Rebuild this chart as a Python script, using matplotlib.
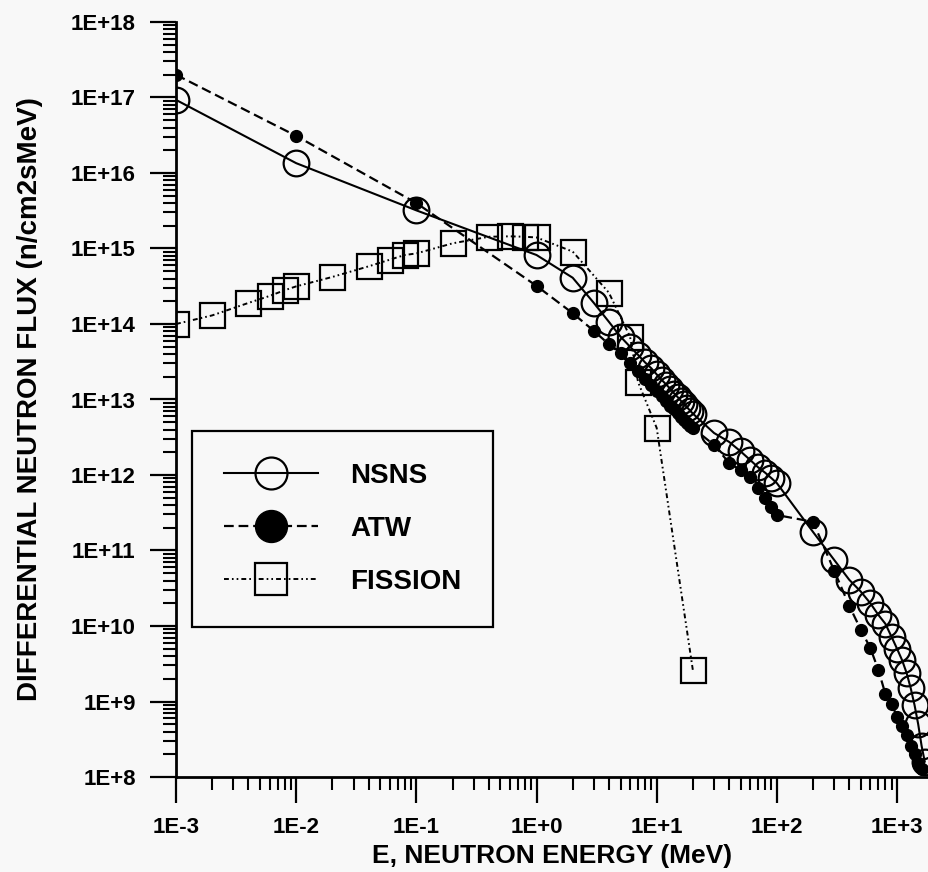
import numpy as np
import matplotlib
matplotlib.use("Agg")
import matplotlib.pyplot as plt
from matplotlib.lines import Line2D
from matplotlib.ticker import LogLocator, FuncFormatter, NullFormatter

plt.rcParams['font.family'] = ['Liberation Sans', 'DejaVu Sans']
plt.rcParams['font.weight'] = 'bold'
plt.rcParams['lines.scale_dashes'] = False

# ---------------- data ----------------
nsns_E = [1e-3, 1e-2, 1e-1, 1.0, 2.0, 3.0, 4.0, 5.0, 6.0, 7.0, 8.0, 9.0, 10.0,
          11.0, 12.0, 13.0, 14.0, 15.0, 16.0, 17.0, 18.0, 19.0, 20.0,
          30.0, 40.0, 50.0, 60.0, 70.0, 80.0, 90.0, 100.0,
          200.0, 300.0, 400.0, 500.0, 600.0, 700.0, 800.0, 900.0, 1000.0,
          1100.0, 1200.0, 1300.0, 1400.0, 1500.0, 1600.0, 1700.0]
nsns_F = [9.3e16, 1.35e16, 3.2e15, 8.2e14, 4.1e14, 1.9e14, 1.07e14, 6.8e13, 5.0e13,
          3.9e13, 3.1e13, 2.6e13, 2.15e13, 1.82e13, 1.58e13, 1.38e13, 1.2e13, 1.07e13,
          9.5e12, 8.7e12, 7.8e12, 7.1e12, 6.5e12,
          3.6e12, 2.75e12, 2.05e12, 1.58e12, 1.26e12, 1.07e12, 9.1e11, 7.8e11,
          1.76e11, 7.5e10, 4.1e10, 2.85e10, 2.0e10, 1.4e10, 1.07e10, 7.2e9, 5.0e9,
          3.55e9, 2.4e9, 1.5e9, 8.9e8, 5.0e8, 2.6e8, 1.6e8]

atw_E = [1e-3, 1e-2, 1e-1, 1.0, 2.0, 3.0, 4.0, 5.0, 6.0, 7.0, 8.0, 9.0, 10.0,
         11.0, 12.0, 13.0, 14.0, 15.0, 16.0, 17.0, 18.0, 19.0, 20.0,
         30.0, 40.0, 50.0, 60.0, 70.0, 80.0, 90.0, 100.0,
         200.0, 300.0, 400.0, 500.0, 600.0, 700.0, 800.0, 900.0, 1000.0,
         1100.0, 1200.0, 1300.0, 1400.0, 1500.0, 1600.0]
atw_F = [2.0e17, 3.1e16, 4.0e15, 3.2e14, 1.39e14, 8.1e13, 5.4e13, 4.1e13, 3.0e13,
         2.35e13, 1.86e13, 1.55e13, 1.29e13, 1.1e13, 9.5e12, 8.3e12, 7.4e12, 6.6e12,
         5.9e12, 5.4e12, 4.9e12, 4.5e12, 4.2e12,
         2.5e12, 1.45e12, 1.15e12, 9.5e11, 6.8e11, 5.0e11, 3.8e11, 2.95e11,
         2.4e11, 5.4e10, 1.86e10, 8.9e9, 5.1e9, 2.6e9, 1.26e9, 9.3e8, 6.3e8,
         4.8e8, 3.6e8, 2.6e8, 2.0e8, 1.55e8, 1.26e8]

fis_E = [1e-3, 2e-3, 4e-3, 6e-3, 8e-3, 1e-2, 2e-2, 4e-2, 6e-2, 8e-2, 1e-1,
         0.2, 0.4, 0.6, 0.8, 1.0, 2.0, 4.0, 6.0, 7.0, 10.0, 20.0]
fis_F = [1.0e14, 1.3e14, 1.9e14, 2.35e14, 2.8e14, 3.15e14, 4.2e14, 5.8e14, 7.1e14,
         8.2e14, 8.6e14, 1.17e15, 1.43e15, 1.45e15, 1.43e15, 1.4e15, 9.1e14,
         2.6e14, 6.8e13, 1.7e13, 4.2e12, 2.6e9]

series_names = ["NSNS", "ATW", "FISSION"]
x_label = "E, NEUTRON ENERGY (MeV)"
y_label = "DIFFERENTIAL NEUTRON FLUX (n/cm2sMeV)"

# ---------------- figure ----------------
W, H = 929, 872
bg = '#f8f8f8'
fig = plt.figure(figsize=(W / 100, H / 100), dpi=100, facecolor=bg)
ax = fig.add_axes([176 / W, 95 / H, (W - 176) / W, 755 / H], facecolor=bg)

atw_dash = (7, 3.5)
fis_dash = (3.5, 2.2, 1.2, 2.2, 1.2, 2.2)

ax.plot(nsns_E, nsns_F, color='black', lw=1.5, marker='o', ms=18.5,
        mfc='none', mec='black', mew=1.6, zorder=3)
ax.plot(atw_E, atw_F, color='black', lw=1.6, dashes=atw_dash, marker='o', ms=8.5,
        mfc='black', mec='black', zorder=4)
ax.plot(fis_E, fis_F, color='black', lw=1.4, dashes=fis_dash, marker='s', ms=18,
        mfc='none', mec='black', mew=1.6, zorder=2)

ax.set_xscale('log')
ax.set_yscale('log')
ax.set_xlim(1e-3, 10 ** 3.266)
ax.set_ylim(1e8, 1e18)

for s in ['top', 'right']:
    ax.spines[s].set_visible(False)
for s in ['left', 'bottom']:
    ax.spines[s].set_linewidth(2.0)

ax.xaxis.set_major_locator(LogLocator(base=10, numticks=20))
ax.yaxis.set_major_locator(LogLocator(base=10, numticks=20))
ax.xaxis.set_minor_locator(LogLocator(base=10, subs=np.arange(2, 10), numticks=20))
ax.yaxis.set_minor_locator(LogLocator(base=10, subs=np.arange(2, 10), numticks=20))
fmt = FuncFormatter(lambda v, p: "1E%+d" % int(round(np.log10(v))))
ax.xaxis.set_major_formatter(fmt)
ax.yaxis.set_major_formatter(fmt)
ax.xaxis.set_minor_formatter(NullFormatter())
ax.yaxis.set_minor_formatter(NullFormatter())

ax.tick_params(which='major', direction='out', length=19, width=1.6, labelsize=16,
               pad=10, color='black')
ax.tick_params(which='minor', direction='out', length=9.5, width=1.5, color='black')

ax.set_xlabel(x_label, fontsize=19, fontweight='bold')
ax.set_ylabel(y_label, fontsize=20, fontweight='bold')
ax.xaxis.set_label_coords(0.5, -0.089)
ax.yaxis.set_label_coords(-0.1766, 0.5)

handles = [
    Line2D([], [], color='black', lw=1.5, marker='o', ms=23, mfc='none', mec='black', mew=1.6),
    Line2D([], [], color='black', lw=1.6, dashes=atw_dash, marker='o', ms=23, mfc='black', mec='black'),
    Line2D([], [], color='black', lw=1.4, dashes=fis_dash, marker='s', ms=23, mfc='none', mec='black', mew=1.6),
]
leg = ax.legend(handles, series_names, loc='upper left', bbox_to_anchor=(0.0208, 0.4587),
                handlelength=3.4, handletextpad=1.15, labelspacing=0.98,
                borderpad=1.15, borderaxespad=0, fancybox=False, framealpha=1,
                edgecolor='black', facecolor=bg, prop={'weight': 'bold', 'size': 20})
leg.get_frame().set_linewidth(1.6)

fig.savefig('out.png', dpi=100, facecolor=bg)
